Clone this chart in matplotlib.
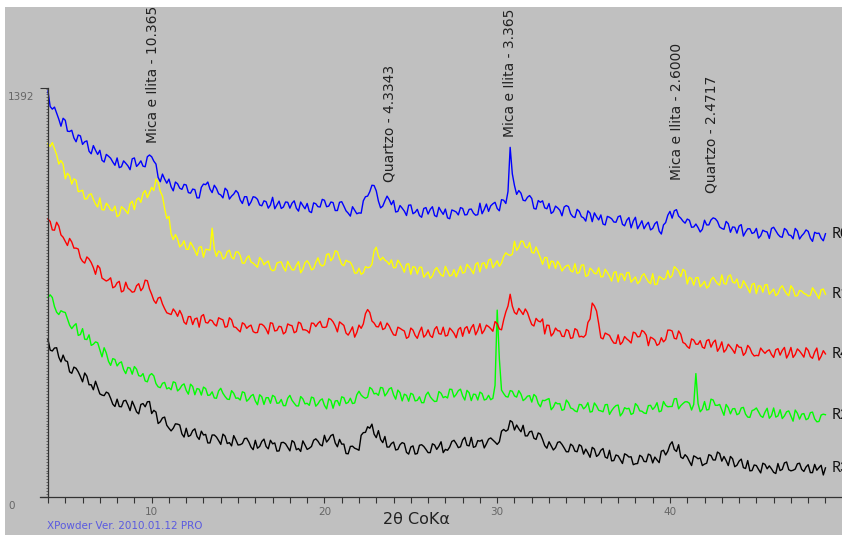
import numpy as np
import matplotlib
matplotlib.use("Agg")
import matplotlib.pyplot as plt
from matplotlib.patches import Rectangle
from matplotlib.ticker import FixedLocator

# ---------------- data (counts) -------------
# readings at 4.00, 4.25, ... 49.00 deg 2theta
two_theta = np.arange(4.0, 49.001, 0.25)
# readings in between, at 4.125, 4.375, ... 48.875 deg 2theta
two_theta_mid = np.arange(4.125, 48.9, 0.25)

blue = [
    1382, 1320, 1306, 1262,   1282, 1244, 1222, 1232,   1200, 1212, 1168, 1180,
    1180, 1140, 1160, 1140,   1154, 1124, 1136, 1114,   1154, 1133, 1126, 1158,
    1158, 1133, 1073, 1082,   1082, 1042, 1066, 1047,   1062, 1034, 1046, 1018,
    1065, 1072, 1036, 1050,   1028, 1051, 1014, 1031,   1035, 999, 1022, 1004,
    1020, 994, 1008, 983,     1020, 994, 982, 1004,     983, 1008, 973, 992,
    999, 968, 998, 987,       1010, 990, 1002, 975,     1005, 974, 956, 976,
    967, 1008, 1024, 1061,    1042, 984, 1008, 1012,    1009, 972, 983, 958,
    994, 969, 958, 982,       963, 988, 954, 973,       980, 947, 974, 960,
    982, 961, 980, 959,       1000, 979, 972, 998,      982, 1012, 999, 1190,
    1060, 1043, 1010, 1020,   1016, 980, 1003, 984,     999, 971, 984, 957,
    992, 964, 951, 972,       950, 974, 937, 954,       960, 926, 952, 936,
    954, 928, 942, 916,       952, 926, 913, 935,       914, 937, 895, 934,
    972, 974, 956, 939,       946, 918, 929, 902,       942, 926, 950, 938,
    914, 938, 901, 918,       922, 888, 913, 897,       914, 889, 904, 880,
    918, 894, 884, 908,       890, 914, 878, 897,       904, 870, 897, 881,
    896,
]
blue_mid = [
    1329, 1327, 1286, 1289,   1245, 1248, 1209, 1229,   1209, 1177, 1196, 1166,
    1146, 1166, 1153, 1129,   1121, 1144, 1127, 1151,   1125, 1144, 1124, 1164,
    1143, 1088, 1099, 1068,   1056, 1072, 1051, 1064,   1036, 1048, 1018, 1054,
    1063, 1048, 1061, 1032,   1018, 1043, 1024, 1043,   1011, 1022, 992, 1022,
    1013, 991, 1005, 994,     981, 1007, 987, 1003,     1000, 983, 1004, 981,
    972, 1001, 988, 1013,     988, 1004, 975, 1003,     990, 966, 988, 964,
    966, 1022, 1039, 1060,    1007, 990, 1024, 995,     970, 992, 973, 993,
    964, 979, 952, 985,       979, 958, 986, 962,       950, 977, 970, 985,
    960, 979, 966, 961,       964, 997, 991, 1003,      974, 1010, 1040, 1100,
    1030, 1034, 1008, 1026,   982, 1009, 1008, 981,     965, 990, 976, 987,
    988, 954, 979, 954,       939, 966, 967, 943,       929, 955, 947, 935,
    957, 923, 951, 939,       913, 940, 926, 909,       930, 905, 926, 959,
    949, 978, 949, 932,       942, 919, 917, 911,       926, 943, 947, 919,
    911, 930, 919, 898,       927, 902, 913, 900,       881, 908, 902, 914,
    906, 886, 914, 892,       879, 905, 889, 909,       881, 901, 898, 872,
]

yellow = [
    1203, 1206, 1165, 1145,   1083, 1093, 1083, 1039,   1044, 1015, 1032, 997,
    1018, 977, 991, 974,      954, 988, 974, 998,       978, 1018, 1034, 1019,
    1054, 1082, 1040, 982,    955, 876, 878, 858,       843, 867, 839, 850,
    816, 842, 915, 819,       832, 815, 840, 810,       834, 796, 813, 800,
    789, 815, 790, 803,       770, 796, 800, 769,       787, 773, 801, 775,
    804, 773, 798, 792,       791, 828, 814, 835,       792, 806, 799, 762,
    779, 763, 780, 792,       850, 806, 806, 791,       780, 806, 782, 792,
    758, 782, 782, 748,       766, 752, 781, 756,       785, 752, 774, 767,
    762, 792, 773, 792,       766, 797, 806, 780,       804, 796, 831, 822,
    870, 850, 870, 848,       833, 851, 814, 815,       778, 801, 802, 769,
    787, 770, 794, 764,       790, 754, 772, 760,       749, 775, 751, 764,
    732, 758, 763, 731,       749, 734, 760, 733,       760, 724, 746, 744,
    746, 784, 769, 775,       725, 743, 746, 715,       734, 718, 748, 726,
    756, 724, 756, 728,       713, 736, 711, 724,       692, 718, 722, 690,
    708, 692, 719, 692,       719, 684, 703, 693,       684, 712, 689, 705,
    690,
]
yellow_mid = [
    1193, 1186, 1133, 1133,   1102, 1065, 1078, 1041,   1014, 1029, 1013, 987,
    978, 1000, 977, 990,      959, 982, 964, 1007,      1012, 1003, 1043, 1036,
    1043, 1071, 1024, 948,    896, 893, 851, 872,       843, 854, 822, 852,
    843, 840, 845, 837,       810, 835, 816, 834,       822, 796, 821, 796,
    782, 807, 798, 777,       773, 799, 781, 802,       773, 789, 763, 797,
    793, 777, 814, 786,       825, 804, 838, 812,       787, 801, 785, 762,
    758, 784, 782, 838,       820, 816, 801, 807,       781, 795, 765, 794,
    784, 759, 782, 757,       744, 772, 767, 751,       769, 755, 749, 786,
    765, 783, 760, 798,       795, 778, 810, 792,       785, 819, 825, 826,
    839, 871, 851, 866,       830, 833, 792, 815,       803, 778, 790, 780,
    789, 766, 761, 789,       751, 779, 761, 780,       750, 764, 735, 767,
    759, 737, 764, 740,       726, 753, 745, 726,       723, 751, 740, 771,
    753, 777, 750, 769,       748, 721, 747, 724,       711, 739, 736, 721,
    727, 751, 732, 742,       712, 724, 695, 727,       719, 697, 723, 699,
    685, 711, 704, 685,       708, 685, 701, 690,       686, 701, 675, 708,
]

red = [
    946, 909, 935, 892,       870, 880, 847, 844,       802, 817, 798, 758,
    779, 740, 739, 712,       729, 698, 731, 705,       699, 726, 712, 736,
    690, 659, 680, 641,       624, 640, 615, 620,       588, 614, 606, 578,
    621, 592, 600, 582,       606, 578, 610, 579,       569, 593, 574, 585,
    559, 588, 582, 555,       591, 567, 579, 561,       585, 559, 595, 569,
    566, 592, 580, 598,       577, 608, 596, 562,       590, 558, 564, 544,
    585, 589, 638, 599,       580, 596, 574, 582,       552, 578, 569, 540,
    575, 550, 562, 544,       569, 543, 580, 554,       548, 575, 557, 570,
    547, 580, 576, 552,       590, 567, 580, 564,       590, 569, 630, 690,
    628, 642, 621, 628,       587, 608, 596, 555,       584, 557, 566, 547,
    570, 540, 573, 545,       544, 594, 660, 633,       542, 558, 550, 524,
    552, 527, 538, 524,       558, 546, 562, 515,       540, 516, 542, 536,
    568, 540, 565, 526,       512, 538, 520, 532,       506, 536, 526, 496,
    528, 502, 511, 489,       510, 482, 516, 489,       482, 507, 489, 501,
    475, 505, 499, 473,       509, 485, 497, 476,       499, 472, 507, 479,
    487,
]
red_mid = [
    938, 908, 922, 884,       856, 868, 847, 814,       796, 810, 781, 788,
    745, 735, 746, 716,       734, 702, 711, 697,       719, 702, 738, 708,
    669, 677, 657, 627,       621, 630, 635, 595,       614, 587, 609, 615,
    594, 603, 588, 610,       603, 580, 603, 577,       562, 588, 581, 563,
    560, 588, 571, 593,       565, 581, 555, 589,       583, 563, 591, 569,
    558, 591, 591, 578,       579, 605, 582, 596,       584, 551, 579, 560,
    574, 624, 628, 592,       579, 570, 592, 566,       550, 574, 565, 545,
    568, 540, 578, 552,       549, 571, 556, 578,       550, 567, 542, 577,
    574, 557, 587, 567,       556, 585, 573, 597,       572, 603, 650, 650,
    622, 632, 640, 606,       582, 599, 606, 585,       548, 575, 565, 546,
    566, 542, 568, 547,       552, 606, 650, 590,       538, 554, 535, 523,
    519, 546, 532, 561,       545, 567, 551, 544,       534, 521, 528, 568,
    565, 538, 554, 522,       506, 534, 520, 510,       532, 510, 534, 508,
    493, 520, 501, 519,       509, 491, 507, 480,       481, 497, 497, 485,
    501, 483, 509, 487,       475, 504, 487, 508,       478, 493, 466, 498,
]

green = [
    679, 679, 629, 634,       628, 585, 583, 550,       573, 536, 516, 528,
    501, 508, 462, 471,       446, 460, 420, 439,       444, 413, 420, 392,
    420, 386, 372, 390,       372, 392, 361, 380,       363, 384, 348, 367,
    374, 346, 358, 336,       370, 342, 332, 353,       337, 358, 326, 344,
    327, 348, 315, 338,       346, 319, 332, 311,       346, 319, 310, 334,
    319, 340, 309, 329,       312, 334, 302, 328,       341, 318, 336, 320,
    360, 340, 340, 367,       353, 373, 344, 368,       348, 364, 327, 346,
    353, 327, 341, 321,       357, 332, 326, 353,       342, 367, 340, 362,
    344, 363, 328, 349,       357, 330, 346, 336,       636, 364, 342, 362,
    344, 362, 328, 343,       323, 342, 307, 328,       335, 306, 317, 295,
    330, 303, 293, 315,       300, 321, 291, 310,       293, 314, 281, 304,
    313, 286, 300, 281,       318, 293, 286, 311,       298, 321, 293, 312,
    308, 334, 300, 318,       324, 296, 420, 290,       325, 298, 330, 312,
    296, 315, 283, 301,       284, 305, 272, 294,       303, 276, 289, 268,
    303, 276, 267, 290,       275, 296, 265, 284,       267, 289, 256, 279,
    280,
]
green_mid = [
    688, 648, 621, 630,       607, 573, 590, 553,       537, 552, 520, 525,
    477, 490, 448, 468,       456, 434, 441, 418,       435, 411, 395, 414,
    412, 375, 387, 368,       365, 389, 368, 385,       350, 376, 369, 347,
    369, 347, 337, 361,       353, 333, 362, 336,       330, 355, 333, 349,
    314, 341, 338, 319,       341, 320, 311, 336,       329, 310, 342, 317,
    312, 337, 317, 334,       300, 328, 327, 311,       338, 322, 318, 348,
    347, 336, 373, 351,       346, 371, 354, 372,       333, 355, 350, 326,
    349, 329, 321, 347,       341, 325, 359, 338,       337, 366, 349, 367,
    330, 355, 350, 330,       352, 333, 331, 380,       470, 352, 340, 360,
    340, 350, 334, 345,       349, 318, 329, 332,       297, 322, 318, 298,
    321, 300, 290, 314,       307, 289, 320, 295,       290, 315, 294, 311,
    276, 304, 302, 285,       310, 292, 284, 312,       306, 290, 325, 307,
    308, 335, 311, 324,       319, 315, 318, 299,       296, 333, 312, 315,
    278, 304, 300, 280,       303, 282, 271, 297,       290, 271, 302, 277,
    272, 297, 276, 293,       258, 285, 282, 263,       287, 266, 257, 282,
]

black = [
    536, 497, 508, 460,       464, 426, 442, 426,       392, 411, 382, 394,
    351, 345, 353, 316,       333, 307, 329, 294,       309, 283, 318, 324,
    284, 289, 256, 272,       234, 234, 248, 215,       234, 210, 232, 196,
    211, 184, 211, 204,       179, 207, 185, 209,       177, 182, 200, 170,
    193, 172, 197, 164,       181, 156, 185, 181,       157, 186, 165, 191,
    162, 172, 198, 178,       210, 196, 213, 171,       180, 148, 172, 166,
    159, 219, 239, 248,       202, 196, 206, 170,       187, 162, 185, 152,
    170, 146, 176, 172,       151, 181, 162, 188,       162, 170, 193, 168,
    194, 176, 203, 172,       190, 167, 197, 194,       179, 224, 224, 260,
    228, 232, 244, 208,       224, 196, 214, 175,       188, 160, 186, 179,
    154, 180, 156, 178,       146, 150, 169, 138,       159, 136, 159, 124,
    140, 114, 143, 137,       113, 142, 121, 146,       116, 126, 156, 143,
    178, 162, 178, 131,       136, 107, 136, 133,       112, 144, 126, 153,
    122, 124, 138, 103,       122, 100, 124, 90,        107, 82, 111, 106,
    84, 114, 94, 119,         89, 95, 115, 87,          110, 83, 91, 108,
    99,
]
black_mid = [
    500, 507, 476, 483,       461, 421, 438, 410,       422, 382, 365, 373,
    347, 357, 336, 308,       308, 327, 313, 326,       290, 315, 307, 325,
    295, 250, 269, 244,       225, 249, 245, 204,       206, 226, 206, 224,
    213, 184, 211, 192,       214, 182, 174, 194,       178, 199, 187, 161,
    166, 189, 172, 193,       184, 157, 186, 169,       192, 161, 155, 177,
    166, 193, 190, 174,       187, 209, 184, 196,       180, 147, 173, 163,
    210, 220, 234, 214,       226, 185, 170, 182,       160, 178, 182, 146,
    174, 148, 178, 162,       151, 177, 173, 151,       159, 189, 182, 171,
    203, 174, 169, 192,       194, 181, 201, 187,       188, 230, 229, 255,
    245, 222, 208, 222,       200, 218, 196, 166,       174, 168, 188, 167,
    154, 174, 154, 173,       163, 135, 163, 144,       165, 132, 123, 143,
    127, 147, 136, 110,       114, 137, 120, 142,       136, 117, 159, 156,
    188, 155, 136, 144,       121, 140, 130, 107,       115, 141, 126, 148,
    138, 107, 130, 108,       129, 97, 89, 109,         94, 115, 96, 96,
    80, 90, 116, 93,          91, 113, 94, 102,         83, 111, 100, 75,
]

series_values = [black, green, red, yellow, blue]
series_mid_values = [black_mid, green_mid, red_mid, yellow_mid, blue_mid]
series_colors = ["#000000", "#00ff00", "#ff0000", "#ffff00", "#0000ff"]
series_names = ["R3", "R2", "R4", "R1", "R0"]

ann_labels = ["Mica e Ilita - 10.365", "Quartzo - 4.3343", "Mica e Ilita - 3.365",
              "Mica e Ilita - 2.6000", "Quartzo - 2.4717"]
ann_pos = [10.08, 23.74, 30.74, 40.39, 42.41]
ann_base = [1205, 1072, 1225, 1079, 1035]

x_tick_values = list(range(4, 50))
y_tick_values = [0, 1392]

# ---------------- figure ----------------
W, H = 842, 535
fig = plt.figure(figsize=(W / 100, H / 100), dpi=100)
fig.patch.set_facecolor("white")
fig.patches.append(Rectangle((5 / W, 0), 1, (H - 7) / H, transform=fig.transFigure,
                             facecolor="#c0c0c0", edgecolor="none", zorder=-10))

ax = fig.add_axes([40 / W, 38 / H, (W - 40) / W, 490 / H])
ax.set_facecolor("none")
px_per_deg = 17.277
ax.set_xlim(4 - 8 / px_per_deg, 4 + (W - 48) / px_per_deg)
ax.set_ylim(0, 490 * 1392 / 409)

for vals, mids, col in zip(series_values, series_mid_values, series_colors):
    assert len(vals) == len(two_theta) and len(mids) == len(two_theta_mid)
    xs = np.concatenate([two_theta, two_theta_mid])
    ys = np.concatenate([np.asarray(vals, float), np.asarray(mids, float)])
    order = np.argsort(xs)
    ax.plot(xs[order], ys[order], color=col, lw=1.0)

axis_col = "#333333"
for s in ["top", "right"]:
    ax.spines[s].set_visible(False)
ax.spines["left"].set_position(("data", 4))
ax.spines["left"].set_bounds(0, 1392)
ax.spines["left"].set_color(axis_col)
ax.spines["bottom"].set_color(axis_col)
ax.spines["left"].set_linewidth(0.9)
ax.spines["bottom"].set_linewidth(0.9)

ax.set_xticks(x_tick_values)
ax.set_xticklabels([str(v) if v % 10 == 0 else "" for v in x_tick_values])
ax.tick_params(axis="x", direction="out", length=4.5, width=0.8, color=axis_col,
               pad=2.5, labelsize=7.5, labelcolor="#666666")
for lab in ax.get_xticklabels():
    lab.set_family(["Liberation Sans Narrow", "DejaVu Sans"])

ax.set_yticks(y_tick_values)
ax.set_yticklabels(["", ""])
ax.yaxis.set_minor_locator(FixedLocator(list(range(10, 1392, 10))))
ax.tick_params(axis="y", which="major", direction="out", length=6, width=0.8, color=axis_col)
ax.tick_params(axis="y", which="minor", direction="out", length=1.6, width=0.6, color="#555555")
for v in y_tick_values:
    ax.annotate(str(v), xy=(4, v), xycoords="data", xytext=(-40, -9),
                textcoords="offset pixels", ha="left", va="center", fontsize=7.5,
                color="#666666", family=["Liberation Sans Narrow", "DejaVu Sans"],
                annotation_clip=False)

# peak annotations
for lab, pos, base in zip(ann_labels, ann_pos, ann_base):
    ax.text(pos, base, lab, rotation=90, ha="center", va="bottom", fontsize=10,
            color="#222222", family="DejaVu Sans", clip_on=True)

# series names at the right end
for vals, name in zip(series_values, series_names):
    ax.text(49.38, vals[-1], name, ha="left", va="center", fontsize=10.5,
            color="#111111", family="Lato", clip_on=False)

ax.set_xlabel("2θ CoKα", fontsize=11.5, color="#222222",
              family=["Liberation Sans Narrow", "DejaVu Sans"])
ax.xaxis.label.set_va("center")
ax.xaxis.set_label_coords((416 - 40) / (W - 40), -22 / 490)

fig.text(47 / W, 1 - 526 / H, "XPowder Ver. 2010.01.12 PRO", ha="left", va="center",
         fontsize=7.5, color="#5a5ae0", family=["Liberation Sans Narrow", "DejaVu Sans"])

fig.savefig("out.png", dpi=100, facecolor=fig.get_facecolor())
